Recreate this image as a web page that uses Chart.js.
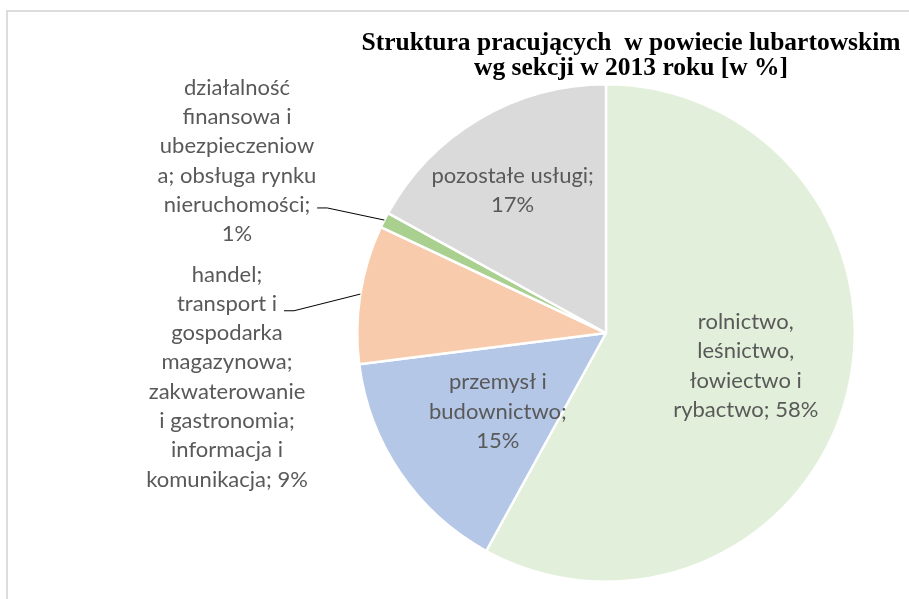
<!DOCTYPE html>
<html><head><meta charset="utf-8">
<script src="https://cdn.jsdelivr.net/npm/chart.js@4/dist/chart.umd.min.js"></script>
<style>
html,body{margin:0;padding:0;background:#fff;}
#wrap{position:relative;width:909px;height:599px;overflow:hidden;background:#fff;}
#frame{position:absolute;left:6px;top:10px;width:1000px;height:1000px;border-left:2px solid #DCDCDC;border-top:2px solid #DCDCDC;}
canvas{position:absolute;left:0;top:0;}
</style></head><body>
<div id="wrap"><div id="frame"></div><canvas id="c" width="909" height="599"></canvas></div>
<script>
// ---- data ----
const categories = [
  'rolnictwo, leśnictwo, łowiectwo i rybactwo',
  'przemysł i budownictwo',
  'handel; transport i gospodarka magazynowa; zakwaterowanie i gastronomia; informacja i komunikacja',
  'działalność finansowa i ubezpieczeniowa; obsługa rynku nieruchomości',
  'pozostałe usługi'
];
const values = [58, 15, 9, 1, 17];
const labelLines = [
  ['rolnictwo,', 'leśnictwo,', 'łowiectwo i', 'rybactwo; 58%'],
  ['przemysł i', 'budownictwo;', '15%'],
  ['handel;', 'transport i', 'gospodarka', 'magazynowa;', 'zakwaterowanie', 'i gastronomia;', 'informacja i', 'komunikacja; 9%'],
  ['działalność', 'finansowa i', 'ubezpieczeniow', 'a; obsługa rynku', 'nieruchomości;', '1%'],
  ['pozostałe usługi;', '17%']
];
const titleLines = ['Struktura pracujących  w powiecie lubartowskim', 'wg sekcji w 2013 roku [w %]'];

// ---- styles / placement ----
const colors = ['#E2EFDA', '#B4C7E7', '#F8CBAD', '#A9D08E', '#DADADA'];
const LABEL_FONT = '22px Lato, "Open Sans", sans-serif';
const LINE_H = 29.3;
// inside: radial factor + nudge ; outside: block offset from centre, leader line index
const placement = [
  {type: 'in', f: 0.58, dx: 0, dy: -3},
  {type: 'in', f: 0.54, dx: 3, dy: 3},
  {type: 'out', bx: -379, by: 44, leaderLine: 1, ly: 7},
  {type: 'out', bx: -369, by: -172, leaderLine: 4, ly: 3},
  {type: 'in', f: 0.69, dx: -6, dy: 5}
];

const labelPlugin = {
  id: 'labels',
  afterDatasetsDraw(chart) {
    const ctx = chart.ctx;
    const meta = chart.getDatasetMeta(0);
    ctx.save();
    ctx.font = LABEL_FONT;
    ctx.textAlign = 'center';
    ctx.textBaseline = 'middle';
    meta.data.forEach((arc, i) => {
      const p = arc.getProps(['x', 'y', 'startAngle', 'endAngle', 'outerRadius'], true);
      const mid = (p.startAngle + p.endAngle) / 2;
      const pl = placement[i];
      const lines = labelLines[i];
      let cx, cy;
      if (pl.type === 'in') {
        cx = p.x + Math.cos(mid) * p.outerRadius * pl.f + pl.dx;
        cy = p.y + Math.sin(mid) * p.outerRadius * pl.f + pl.dy;
      } else {
        cx = p.x + pl.bx;
        cy = p.y + pl.by;
      }
      const top = cy - (lines.length - 1) * LINE_H / 2;
      ctx.fillStyle = '#595959';
      lines.forEach((t, k) => ctx.fillText(t, cx, top + k * LINE_H));
      if (pl.type === 'out') {
        const t = lines[pl.leaderLine];
        const w = ctx.measureText(t).width;
        const sx = cx + w / 2 + 7;
        const sy = top + pl.leaderLine * LINE_H + pl.ly;
        const ex = p.x + Math.cos(mid) * p.outerRadius;
        const ey = p.y + Math.sin(mid) * p.outerRadius;
        ctx.strokeStyle = '#000';
        ctx.lineWidth = 1;
        ctx.beginPath();
        ctx.moveTo(sx, sy);
        ctx.lineTo(sx + 10, sy);
        ctx.lineTo(ex, ey);
        ctx.stroke();
      }
    });
    // title
    ctx.fillStyle = '#000';
    ctx.font = 'bold 25.5px "Liberation Serif", serif';
    ctx.textBaseline = 'alphabetic';
    ctx.fillText(titleLines[0], 631, 50);
    ctx.fillText(titleLines[1], 631, 75);
    ctx.restore();
  }
};

new Chart(document.getElementById('c'), {
  type: 'pie',
  data: {
    labels: categories,
    datasets: [{
      data: values,
      backgroundColor: colors,
      borderColor: '#ffffff',
      borderWidth: 2.5
    }]
  },
  options: {
    responsive: false,
    animation: false,
    layout: {padding: {left: 356, right: 53, top: 82, bottom: 15}},
    plugins: {legend: {display: false}, tooltip: {enabled: false}, title: {display: false}}
  },
  plugins: [labelPlugin]
});
</script>
</body></html>
